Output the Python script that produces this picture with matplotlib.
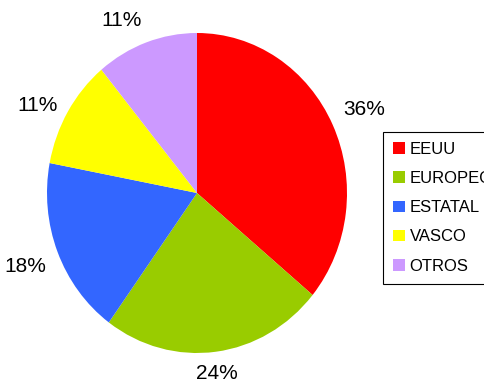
import numpy as np
import matplotlib.pyplot as plt
from matplotlib.patches import Patch

plt.rcParams['font.family'] = ['Liberation Sans', 'DejaVu Sans']

# reparto por origen (%)
categorias = ['EEUU', 'EUROPEO', 'ESTATAL', 'VASCO', 'OTROS']
valores = [36, 24, 18, 11, 11]
colores = ['#ff0000', '#99cc00', '#3366ff', '#ffff00', '#cc99ff']

fig = plt.figure(figsize=(4.84, 3.83), dpi=100)
ax = fig.add_axes([0, 0, 1, 1])

wedges, _ = ax.pie(valores, colors=colores, startangle=90, counterclock=False,
                   wedgeprops=dict(linewidth=0))

# ejes sin proporcion fija: el circulo sale un poco alargado
ax.set_aspect('auto')
ax.set_xlim(-197 / 150, 287 / 150)
ax.set_ylim(-190 / 160, 193 / 160)
ax.axis('off')

# etiquetas de porcentaje por fuera de cada sector
r = 1.08
for w, v in zip(wedges, valores):
    ang = np.deg2rad((w.theta1 + w.theta2) / 2)
    c, s = np.cos(ang), np.sin(ang)
    ha = 'left' if c > 0.3 else ('right' if c < -0.3 else 'center')
    if s > 0.3 and c > -0.6:
        va = 'bottom'
    elif s < -0.3:
        va = 'top'
    else:
        va = 'center'
    ax.text(r * c, r * s, f'{v}%', ha=ha, va=va, fontsize=15)

handles = [Patch(facecolor=col, edgecolor='none') for col in colores]
leg = fig.legend(handles, categorias, loc='upper left',
                 bbox_to_anchor=(383 / 484, 1 - 132 / 383), borderaxespad=0,
                 fontsize=12, handlelength=0.7, handleheight=0.7,
                 handletextpad=0.3, labelspacing=0.85, borderpad=0.6,
                 fancybox=False, framealpha=1)
leg.get_frame().set_edgecolor('black')
leg.get_frame().set_linewidth(0.8)

fig.savefig('out.png', dpi=100)
